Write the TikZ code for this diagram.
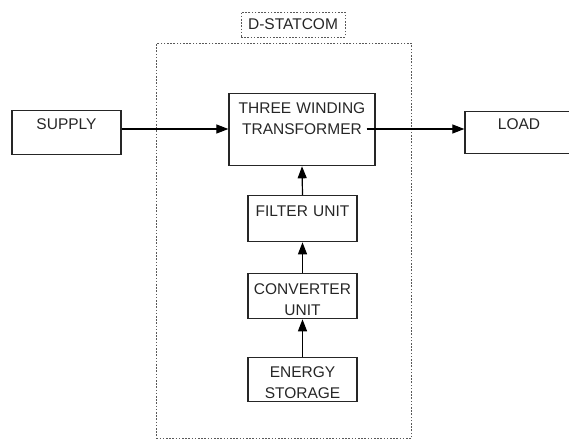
\documentclass[tikz,border=0pt]{standalone}
\usepackage{fontspec}
\setmainfont{Liberation Sans}
\usetikzlibrary{arrows.meta,calc}
\begin{document}
\begin{tikzpicture}[x=1pt,y=-1pt,
  box/.style={draw=black!85,line width=1.3pt,inner sep=0pt,anchor=north,align=center,
    font=\fontsize{15.5}{20.5}\selectfont,text=black!85},
  arr/.style={line width=1.2pt,-{Triangle[length=12pt,width=9pt]}},
  frame/.style={draw=black!65,line width=0.9pt,dash pattern=on 1.6pt off 1.6pt}]
\clip (0,0) rectangle (569,439);
% D-STATCOM enclosure
\node[frame,inner sep=0pt,minimum width=255pt,minimum height=395pt,anchor=north west] (dstat) at (156,43) {};
\node[frame,inner sep=0pt,minimum width=104pt,minimum height=25pt,
  font=\fontsize{15.5}{18}\selectfont,text=black!85] (dlabel) at (293,24.5) {D-STATCOM};
% blocks
\node[box,text width=109pt,text height=19pt,text depth=25pt] (supply) at (66.5,110) {SUPPLY};
\node[box,text width=146pt,text height=20pt,text depth=52pt] (trans) at (302,93) {THREE WINDING\\TRANSFORMER};
\node[box,text width=108pt,text height=18pt,text depth=24pt] (load) at (519,111) {LOAD};
\node[box,text width=109pt,text height=21pt,text depth=25pt] (filter) at (302.5,195) {FILTER UNIT};
\node[box,text width=109pt,text height=21pt,text depth=24pt] (conv) at (302.5,273) {CONVERTER\\UNIT};
\node[box,text width=109pt,text height=20pt,text depth=24pt] (stor) at (302.5,357) {ENERGY\\STORAGE};
% connectors
\draw[arr] ([yshift=-19pt]supply.north east) -- ([yshift=-36pt]trans.north west);
\draw[arr] ([xshift=-9pt,yshift=-36pt]trans.north east) -- ([yshift=-18pt]load.north west);
\draw[arr] (filter.north) -- (trans.south);
\draw[arr] (conv.north) -- (filter.south);
\draw[arr] (stor.north) -- (conv.south);
\end{tikzpicture}
\end{document}
